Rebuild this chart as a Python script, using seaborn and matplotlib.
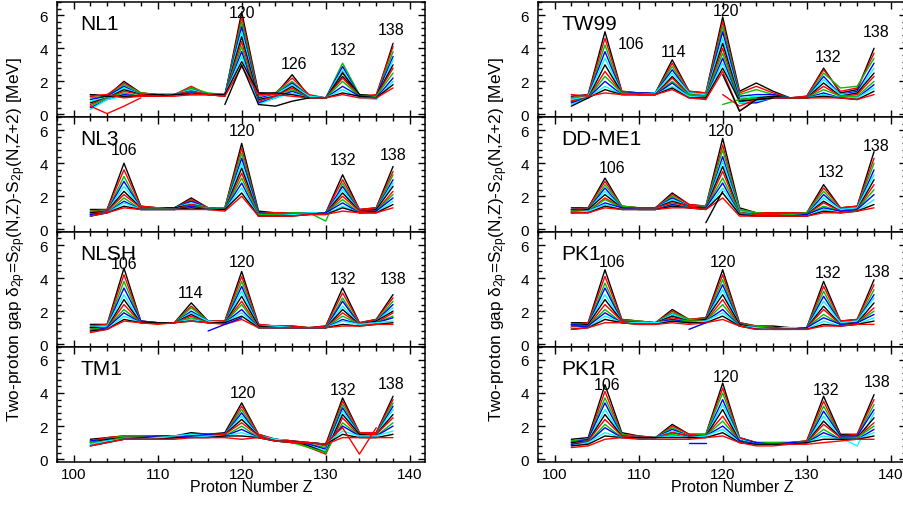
import numpy as np
import pandas as pd
import seaborn as sns
import matplotlib.pyplot as plt
from matplotlib.ticker import MultipleLocator

nan = np.nan

# proton numbers on the x axis
Z = [102, 104, 106, 108, 110, 112, 114, 116, 118, 120, 122, 124, 126, 128, 130, 132, 134, 136, 138]

# two-proton gaps (MeV), one row per isotone line
NL1 = [
    [1.2, 1.1, 2.0, 1.3, 1.2, 1.2, 1.6, 1.2, 1.1, 6.2, 1.3, 1.2, 2.4, 1.1, 1.0, 2.3, 1.2, 1.1, 4.3],
    [1.1, 1.2, 1.9, 1.3, 1.2, 1.2, 1.7, 1.2, 1.1, 5.9, 1.2, 1.3, 2.2, 1.2, 1.0, 2.6, 1.1, 1.2, 4.1],
    [1.0, 1.1, 1.8, 1.3, 1.2, 1.2, 1.6, 1.3, 1.2, 5.6, 1.1, 1.3, 2.0, 1.1, 1.0, 3.1, 1.2, 1.1, 3.8],
    [0.9, 1.1, 1.7, 1.2, 1.2, 1.2, 1.5, 1.2, 1.2, 5.3, 1.0, 1.2, 1.9, 1.1, 1.0, 2.9, 1.1, 1.1, 3.5],
    [0.8, 1.0, 1.6, 1.2, 1.2, 1.2, 1.5, 1.2, 1.2, 5.0, 0.9, 1.2, 1.8, 1.1, 1.0, 2.7, 1.1, 0.9, 3.3],
    [0.7, 1.0, 1.5, 1.2, 1.2, 1.2, 1.4, 1.2, 1.2, 4.7, 0.9, 1.1, 1.7, 1.0, 1.0, 2.5, 1.2, 1.1, 3.0],
    [0.6, 1.0, 1.4, 1.2, 1.1, 1.2, 1.4, 1.2, 1.2, 4.4, 0.8, 1.1, 1.6, 1.0, 1.0, 2.2, 1.1, 1.1, 2.8],
    [0.5, 1.0, 1.3, 1.1, 1.1, 1.2, 1.3, 1.2, 1.2, 4.1, 0.7, 1.0, 1.5, 1.0, 1.0, 2.0, 1.1, 1.1, 2.5],
    [0.4, 0.9, 1.2, 1.1, 1.1, 1.2, 1.3, 1.2, 1.2, 3.8, 0.7, 1.0, 1.4, 1.0, 1.0, 1.7, 1.1, 1.0, 2.2],
    [0.3, 0.9, 1.1, 1.1, 1.1, 1.2, 1.2, 1.2, 1.2, 3.5, 0.6, 1.0, 1.3, 1.0, 1.0, 1.5, 1.0, 0.9, 2.0],
    [1.2, 1.1, 1.1, 1.1, 1.1, 1.2, 1.2, 1.2, 1.2, 3.2, 1.3, 1.3, 1.2, 1.0, 1.0, 1.3, 1.1, 1.0, 1.8],
    [1.1, 1.2, 1.0, 1.1, 1.1, 1.1, 1.2, 1.2, 1.1, 2.9, 1.2, 1.2, 1.1, 1.0, 1.0, 1.2, 1.0, 1.0, 1.6],
]
NL3 = [
    [1.2, 1.2, 4.0, 1.4, 1.3, 1.3, 1.9, 1.3, 1.3, 5.2, 1.1, 1.0, 1.0, 1.0, 1.0, 3.3, 1.2, 1.3, 3.8],
    [1.1, 1.2, 3.6, 1.4, 1.3, 1.3, 1.8, 1.3, 1.3, 4.9, 1.0, 1.0, 1.0, 1.0, 1.0, 3.0, 1.2, 1.3, 3.5],
    [1.1, 1.1, 3.2, 1.3, 1.3, 1.3, 1.7, 1.3, 1.3, 4.6, 1.0, 0.9, 1.0, 1.0, 0.5, 2.8, 1.1, 1.2, 3.3],
    [1.0, 1.1, 2.9, 1.3, 1.3, 1.3, 1.7, 1.3, 1.2, 4.3, 1.0, 0.9, 0.9, 1.0, 1.0, 2.6, 1.1, 1.2, 3.0],
    [1.0, 1.1, 2.6, 1.3, 1.3, 1.3, 1.6, 1.3, 1.2, 4.0, 0.9, 0.9, 0.9, 1.0, 1.0, 2.4, 1.1, 1.2, 2.8],
    [1.0, 1.1, 2.3, 1.3, 1.3, 1.3, 1.5, 1.3, 1.2, 3.7, 0.9, 0.9, 0.9, 0.9, 1.0, 2.2, 1.1, 1.2, 2.6],
    [0.9, 1.1, 2.1, 1.3, 1.3, 1.2, 1.5, 1.3, 1.2, 3.4, 0.9, 0.9, 0.9, 0.9, 1.0, 2.0, 1.1, 1.1, 2.3],
    [0.9, 1.0, 1.9, 1.2, 1.3, 1.2, 1.4, 1.3, 1.2, 3.1, 0.9, 0.9, 0.9, 0.9, 1.0, 1.8, 1.0, 1.1, 2.1],
    [0.9, 1.0, 1.7, 1.2, 1.2, 1.2, 1.4, 1.2, 1.2, 2.8, 0.8, 0.8, 0.9, 0.9, 1.0, 1.6, 1.0, 1.1, 1.9],
    [0.8, 1.0, 1.6, 1.2, 1.2, 1.2, 1.3, 1.2, 1.2, 2.5, 0.8, 0.8, 0.9, 0.9, 0.9, 1.4, 1.0, 1.0, 1.7],
    [0.8, 1.0, 1.4, 1.2, 1.2, 1.2, 1.3, 1.2, 1.2, 2.2, 0.8, 0.8, 0.8, 0.9, 0.9, 1.3, 1.0, 1.0, 1.5],
    [0.8, 1.0, 1.3, 1.2, 1.2, 1.2, 1.2, 1.2, 1.1, 2.0, 0.8, 0.8, 0.8, 0.9, 0.9, 1.1, 1.0, 1.0, 1.3],
]
NLSH = [
    [1.2, 1.2, 4.6, 1.4, 1.3, 1.3, 2.5, 1.4, 1.4, 4.4, 1.2, 1.1, 1.1, 1.0, 1.1, 3.4, 1.3, 1.5, 3.0],
    [1.1, 1.2, 4.2, 1.4, 1.3, 1.3, 2.3, 1.4, 1.4, 4.1, 1.2, 1.1, 1.1, 1.0, 1.1, 3.1, 1.3, 1.5, 2.8],
    [1.1, 1.1, 3.8, 1.4, 1.3, 1.3, 2.2, 1.4, 1.3, 3.8, 1.1, 1.1, 1.0, 1.0, 1.0, 2.8, 1.2, 1.4, 2.6],
    [1.0, 1.1, 3.4, 1.4, 1.3, 1.3, 2.0, 1.4, 1.3, 3.5, 1.1, 1.1, 1.0, 1.0, 1.0, 2.6, 1.2, 1.4, 2.4],
    [1.0, 1.1, 3.0, 1.3, 1.3, 1.3, 1.9, 1.4, 1.3, 3.2, 1.1, 1.1, 1.0, 1.0, 1.0, 2.3, 1.2, 1.4, 2.2],
    [1.0, 1.0, 2.7, 1.3, 1.3, 1.3, 1.8, 1.3, 1.3, 2.9, 1.1, 1.0, 1.0, 1.0, 1.0, 2.1, 1.2, 1.4, 2.0],
    [0.9, 1.0, 2.4, 1.3, 1.3, 1.3, 1.7, 1.3, 1.3, 2.6, 1.0, 1.0, 1.0, 1.0, 1.0, 1.9, 1.2, 1.3, 1.9],
    [0.9, 1.0, 2.1, 1.3, 1.3, 1.3, 1.6, 1.3, 1.3, 2.4, 1.0, 1.0, 1.0, 1.0, 1.0, 1.7, 1.2, 1.3, 1.7],
    [0.8, 1.0, 1.9, 1.3, 1.3, 1.3, 1.5, 1.3, 1.3, 2.1, 1.0, 1.0, 1.0, 1.0, 1.0, 1.5, 1.2, 1.3, 1.6],
    [0.8, 0.9, 1.7, 1.3, 1.3, 1.3, 1.5, 1.3, 1.3, 1.9, 1.0, 1.0, 1.0, 1.0, 1.0, 1.4, 1.2, 1.3, 1.4],
    [0.8, 0.9, 1.5, 1.3, 1.3, 1.3, 1.4, 1.3, 1.3, 1.7, 1.0, 1.0, 1.0, 1.0, 1.0, 1.2, 1.1, 1.2, 1.3],
    [0.7, 0.9, 1.4, 1.3, 1.2, 1.3, 1.4, 1.3, 1.2, 1.5, 1.0, 1.0, 1.0, 1.0, 1.0, 1.1, 1.1, 1.2, 1.2],
]
TM1 = [
    [1.2, 1.3, 1.4, 1.4, 1.4, 1.4, 1.6, 1.5, 1.6, 3.4, 1.5, 1.2, 1.1, 1.0, 0.9, 3.7, 1.6, 1.6, 3.8],
    [1.1, 1.3, 1.4, 1.4, 1.4, 1.4, 1.5, 1.5, 1.5, 3.2, 1.5, 1.2, 1.1, 1.0, 0.8, 3.5, 1.6, 1.6, 3.6],
    [1.1, 1.2, 1.4, 1.4, 1.4, 1.4, 1.5, 1.5, 1.5, 3.0, 1.4, 1.2, 1.1, 0.9, 0.7, 3.3, 1.5, 1.5, 3.4],
    [1.1, 1.2, 1.3, 1.3, 1.4, 1.4, 1.5, 1.5, 1.5, 2.8, 1.4, 1.2, 1.1, 0.9, 0.6, 3.1, 1.5, 1.5, 3.2],
    [1.0, 1.2, 1.3, 1.3, 1.3, 1.4, 1.5, 1.4, 1.5, 2.6, 1.4, 1.2, 1.1, 0.8, 0.5, 2.9, 1.5, 1.5, 3.0],
    [1.0, 1.2, 1.3, 1.3, 1.3, 1.3, 1.4, 1.4, 1.5, 2.4, 1.4, 1.1, 1.1, 0.8, 0.4, 2.7, 1.5, 1.5, 2.7],
    [1.0, 1.1, 1.3, 1.3, 1.3, 1.3, 1.4, 1.4, 1.5, 2.2, 1.4, 1.1, 1.1, 0.7, 0.3, 2.5, 1.4, 1.5, 2.5],
    [1.0, 1.1, 1.3, 1.3, 1.3, 1.3, 1.4, 1.4, 1.4, 2.0, 1.3, 1.1, 1.0, 0.7, 0.4, 2.2, 1.4, 1.4, 2.2],
    [0.9, 1.1, 1.2, 1.3, 1.3, 1.3, 1.4, 1.4, 1.4, 1.8, 1.3, 1.1, 1.0, 1.0, 0.9, 2.0, 1.4, 1.4, 2.0],
    [0.9, 1.1, 1.2, 1.2, 1.3, 1.3, 1.3, 1.4, 1.4, 1.6, 1.3, 1.1, 1.0, 1.0, 0.9, 1.7, 1.4, 1.4, 1.7],
    [0.8, 1.0, 1.2, 1.2, 1.2, 1.3, 1.3, 1.3, 1.4, 1.4, 1.3, 1.1, 1.0, 1.0, 0.9, 1.5, 1.3, 1.3, 1.5],
    [0.8, 1.0, 1.2, 1.2, 1.2, 1.2, 1.3, 1.3, 1.3, 1.2, 1.3, 1.1, 1.0, 1.0, 0.9, 1.3, 1.3, 1.3, 1.3],
]
TW99 = [
    [1.1, 1.2, 5.0, 1.4, 1.3, 1.3, 3.3, 1.4, 1.3, 5.9, 1.4, 1.9, 1.4, 1.0, 1.1, 2.8, 1.3, 1.5, 4.0],
    [1.0, 1.2, 4.6, 1.4, 1.3, 1.3, 3.1, 1.4, 1.3, 5.6, 1.3, 1.7, 1.3, 1.0, 1.1, 2.7, 1.4, 1.6, 3.7],
    [1.0, 1.1, 4.2, 1.3, 1.3, 1.3, 2.9, 1.3, 1.2, 5.3, 1.2, 1.5, 1.2, 1.0, 1.0, 2.5, 1.6, 1.7, 3.4],
    [0.9, 1.1, 3.8, 1.3, 1.3, 1.3, 2.7, 1.3, 1.2, 5.0, 1.1, 1.2, 1.2, 1.0, 1.0, 2.3, 1.2, 1.4, 3.1],
    [0.9, 1.1, 3.4, 1.3, 1.2, 1.3, 2.5, 1.3, 1.2, 4.6, 1.0, 1.1, 1.1, 1.0, 1.0, 2.1, 1.2, 1.3, 2.8],
    [0.8, 1.0, 3.0, 1.3, 1.2, 1.2, 2.3, 1.2, 1.1, 4.3, 0.9, 1.0, 1.1, 1.0, 1.0, 1.9, 1.1, 1.3, 2.5],
    [0.8, 1.0, 2.6, 1.3, 1.2, 1.2, 2.2, 1.2, 1.1, 4.0, 0.8, 0.9, 1.0, 1.0, 1.0, 1.7, 1.1, 1.2, 2.3],
    [0.7, 1.0, 2.3, 1.3, 1.2, 1.2, 2.0, 1.2, 1.1, 3.7, 0.8, 0.8, 1.0, 1.0, 1.0, 1.5, 1.1, 1.1, 2.0],
    [0.7, 1.0, 2.0, 1.2, 1.2, 1.2, 1.9, 1.1, 1.0, 3.4, 0.7, 0.7, 1.0, 1.0, 1.0, 1.3, 1.0, 1.0, 1.8],
    [0.6, 1.0, 1.7, 1.2, 1.2, 1.2, 1.7, 1.1, 1.0, 3.1, 0.7, 0.8, 1.0, 1.0, 1.0, 1.2, 1.0, 1.0, 1.6],
    [0.5, 1.0, 1.5, 1.2, 1.2, 1.2, 1.6, 1.0, 1.0, 2.8, 0.8, 0.9, 1.0, 1.0, 1.0, 1.1, 1.0, 0.9, 1.4],
    [1.2, 1.1, 1.3, 1.2, 1.2, 1.2, 1.5, 1.0, 0.9, 2.6, 0.2, 0.9, 1.0, 1.0, 1.0, 1.0, 1.0, 0.9, 1.2],
]
DDME1 = [
    [1.3, 1.3, 3.1, 1.4, 1.3, 1.3, 2.2, 1.5, 1.4, 5.5, 1.3, 1.0, 1.0, 1.0, 1.0, 2.7, 1.3, 1.4, 4.7],
    [1.2, 1.3, 2.9, 1.4, 1.3, 1.3, 2.1, 1.5, 1.4, 5.1, 1.2, 1.0, 1.0, 1.0, 1.0, 2.5, 1.3, 1.4, 4.3],
    [1.2, 1.2, 2.7, 1.4, 1.3, 1.3, 2.0, 1.4, 1.4, 4.8, 1.2, 1.0, 0.9, 0.9, 1.0, 2.3, 1.2, 1.3, 4.0],
    [1.2, 1.2, 2.5, 1.3, 1.3, 1.3, 1.9, 1.4, 1.3, 4.4, 1.1, 0.9, 0.9, 0.9, 0.9, 2.1, 1.2, 1.3, 3.6],
    [1.1, 1.2, 2.3, 1.3, 1.3, 1.3, 1.8, 1.4, 1.3, 4.1, 1.1, 0.9, 0.9, 0.9, 0.9, 1.9, 1.2, 1.3, 3.3],
    [1.1, 1.2, 2.1, 1.3, 1.3, 1.3, 1.7, 1.4, 1.3, 3.8, 1.0, 0.9, 0.9, 0.9, 0.9, 1.7, 1.1, 1.2, 3.0],
    [1.1, 1.1, 1.9, 1.3, 1.3, 1.3, 1.6, 1.4, 1.3, 3.5, 1.0, 0.9, 0.9, 0.9, 0.9, 1.6, 1.1, 1.2, 2.7],
    [1.1, 1.1, 1.8, 1.3, 1.2, 1.2, 1.5, 1.3, 1.3, 3.1, 1.0, 0.8, 0.8, 0.9, 0.9, 1.4, 1.1, 1.2, 2.4],
    [1.0, 1.1, 1.6, 1.3, 1.2, 1.2, 1.5, 1.3, 1.3, 2.8, 0.9, 0.8, 0.8, 0.8, 0.9, 1.3, 1.1, 1.2, 2.1],
    [1.0, 1.1, 1.5, 1.2, 1.2, 1.2, 1.4, 1.3, 1.2, 2.5, 0.9, 0.8, 0.8, 0.8, 0.8, 1.2, 1.0, 1.1, 1.8],
    [1.0, 1.0, 1.4, 1.2, 1.2, 1.2, 1.4, 1.3, 1.2, 2.2, 0.9, 0.8, 0.8, 0.8, 0.8, 1.1, 1.0, 1.1, 1.5],
    [1.0, 1.0, 1.3, 1.2, 1.2, 1.2, 1.3, 1.3, 1.2, 1.9, 0.8, 0.8, 0.8, 0.8, 0.8, 1.0, 1.0, 1.1, 1.3],
]
PK1 = [
    [1.3, 1.3, 4.5, 1.5, 1.4, 1.3, 2.1, 1.5, 1.6, 4.5, 1.3, 1.1, 1.1, 1.0, 1.0, 3.8, 1.4, 1.5, 3.9],
    [1.2, 1.3, 4.1, 1.5, 1.4, 1.3, 2.0, 1.5, 1.6, 4.2, 1.3, 1.1, 1.0, 1.0, 1.0, 3.5, 1.4, 1.5, 3.6],
    [1.2, 1.2, 3.7, 1.4, 1.4, 1.3, 1.9, 1.5, 1.5, 3.9, 1.2, 1.1, 1.0, 1.0, 1.0, 3.2, 1.3, 1.4, 3.3],
    [1.2, 1.2, 3.4, 1.4, 1.3, 1.3, 1.8, 1.4, 1.5, 3.6, 1.2, 1.0, 1.0, 1.0, 1.0, 2.9, 1.3, 1.4, 3.0],
    [1.1, 1.2, 3.0, 1.4, 1.3, 1.3, 1.8, 1.4, 1.5, 3.3, 1.2, 1.0, 1.0, 1.0, 1.0, 2.6, 1.3, 1.4, 2.8],
    [1.1, 1.2, 2.7, 1.4, 1.3, 1.3, 1.7, 1.4, 1.5, 3.0, 1.2, 1.0, 1.0, 0.9, 1.0, 2.3, 1.2, 1.3, 2.5],
    [1.1, 1.1, 2.4, 1.4, 1.3, 1.3, 1.6, 1.4, 1.4, 2.7, 1.1, 1.0, 1.0, 0.9, 1.0, 2.1, 1.2, 1.3, 2.2],
    [1.0, 1.1, 2.1, 1.3, 1.3, 1.3, 1.5, 1.4, 1.4, 2.4, 1.1, 1.0, 0.9, 0.9, 1.0, 1.8, 1.2, 1.3, 2.0],
    [1.0, 1.1, 1.9, 1.3, 1.3, 1.3, 1.5, 1.3, 1.4, 2.1, 1.1, 1.0, 0.9, 0.9, 1.0, 1.6, 1.2, 1.3, 1.8],
    [1.0, 1.0, 1.7, 1.3, 1.3, 1.3, 1.4, 1.3, 1.4, 1.9, 1.1, 1.0, 0.9, 0.9, 0.9, 1.4, 1.1, 1.2, 1.6],
    [0.9, 1.0, 1.5, 1.3, 1.2, 1.2, 1.4, 1.3, 1.3, 1.7, 1.1, 0.9, 0.9, 0.9, 0.9, 1.2, 1.1, 1.2, 1.4],
    [0.9, 1.0, 1.3, 1.3, 1.2, 1.2, 1.3, 1.2, 1.3, 1.5, 1.1, 0.9, 0.9, 0.9, 0.9, 1.1, 1.1, 1.2, 1.2],
]
PK1R = [
    [1.2, 1.3, 4.5, 1.6, 1.4, 1.3, 2.1, 1.5, 1.5, 4.6, 1.3, 1.0, 1.0, 1.0, 1.1, 3.8, 1.5, 1.5, 3.9],
    [1.1, 1.2, 4.1, 1.5, 1.4, 1.3, 2.0, 1.5, 1.5, 4.3, 1.3, 1.0, 1.0, 1.0, 1.1, 3.5, 1.4, 1.5, 3.6],
    [1.1, 1.2, 3.7, 1.5, 1.3, 1.3, 1.9, 1.4, 1.5, 4.0, 1.2, 1.0, 1.0, 1.0, 1.0, 3.2, 1.4, 1.4, 3.3],
    [1.0, 1.2, 3.4, 1.4, 1.3, 1.3, 1.8, 1.4, 1.4, 3.6, 1.2, 1.0, 0.9, 1.0, 1.0, 2.9, 1.4, 1.4, 3.0],
    [1.0, 1.1, 3.0, 1.4, 1.3, 1.3, 1.7, 1.4, 1.4, 3.3, 1.2, 0.9, 0.9, 0.9, 1.0, 2.6, 1.3, 0.8, 2.8],
    [1.0, 1.1, 2.7, 1.4, 1.3, 1.3, 1.6, 1.4, 1.4, 3.0, 1.1, 0.9, 0.9, 0.9, 1.0, 2.3, 1.3, 1.3, 2.5],
    [0.9, 1.1, 2.4, 1.4, 1.3, 1.3, 1.6, 1.4, 1.4, 2.6, 1.1, 0.9, 0.9, 0.9, 1.0, 2.1, 1.3, 1.3, 2.2],
    [0.9, 1.0, 2.1, 1.3, 1.3, 1.3, 1.5, 1.3, 1.4, 2.3, 1.1, 0.9, 0.9, 0.9, 1.0, 1.8, 1.2, 1.3, 2.0],
    [0.9, 1.0, 1.9, 1.3, 1.3, 1.3, 1.4, 1.3, 1.4, 2.0, 1.1, 0.9, 0.9, 0.9, 1.0, 1.6, 1.2, 1.2, 1.8],
    [0.8, 1.0, 1.6, 1.3, 1.3, 1.3, 1.4, 1.3, 1.4, 1.8, 1.0, 0.9, 0.9, 0.9, 1.0, 1.4, 1.2, 1.2, 1.6],
    [0.8, 0.9, 1.4, 1.3, 1.3, 1.3, 1.3, 1.3, 1.3, 1.6, 1.0, 0.9, 0.9, 0.9, 1.0, 1.2, 1.2, 1.2, 1.4],
    [0.7, 0.8, 1.2, 1.3, 1.2, 1.2, 1.2, 1.2, 1.3, 1.4, 1.0, 0.8, 0.8, 0.9, 0.9, 1.0, 1.1, 1.2, 1.2],
]

# short stray lines (isotones that exist only over part of the Z range)
EXTRA = {
    'NL1': [('red', [0.5, 0.05, 0.5, 1.0] + [nan] * 15),
            ('black', [nan] * 8 + [0.6, 3.0, 0.6, 0.5, 0.8, 1.0] + [nan] * 5)],
    'NL3': [],
    'NLSH': [('blue', [nan] * 7 + [0.8, 1.2, 1.6] + [nan] * 9)],
    'TM1': [('red', [nan] * 14 + [1.0, 1.9, 0.3, 1.9, nan])],
    'TW99': [('red', [nan] * 9 + [1.2, 0.5, 0.9, 1.0] + [nan] * 6),
             ('#00c000', [nan] * 9 + [0.6, 0.9, 1.0] + [nan] * 7),
             ('black', [nan] * 9 + [2.4, 0.2, 0.9, 1.0] + [nan] * 6)],
    'DD-ME1': [('black', [nan] * 8 + [0.4, 2.3] + [nan] * 9)],
    'PK1': [('blue', [nan] * 7 + [0.9, 1.3] + [nan] * 10)],
    'PK1R': [('blue', [nan] * 7 + [1.0, 1.0] + [nan] * 10)],
}

# magic-number tags: (text, Z, MeV)
TAGS = {
    'NL1': [('120', 120, 6.15), ('126', 126.2, 3.1), ('132', 132.1, 3.9), ('138', 137.8, 5.15)],
    'NL3': [('106', 106, 4.8), ('120', 120, 6.0), ('132', 132, 4.25), ('138', 138, 4.5)],
    'NLSH': [('106', 106, 4.9), ('114', 113.9, 3.1), ('120', 120, 5.0), ('132', 132, 4.0), ('138', 138, 4.0)],
    'TM1': [('120', 120.1, 4.0), ('132', 132, 4.2), ('138', 137.8, 4.6)],
    'TW99': [('106', 109.1, 4.3), ('114', 114.2, 3.8), ('120', 120.4, 6.3), ('132', 132.5, 3.5), ('138', 138.2, 5.0)],
    'DD-ME1': [('106', 106.8, 3.75), ('120', 119.8, 6.0), ('132', 132.9, 3.5), ('138', 138.2, 5.1)],
    'PK1': [('106', 106.8, 5.0), ('120', 120, 5.0), ('132', 132.5, 4.35), ('138', 138.4, 4.4)],
    'PK1R': [('106', 106.3, 4.5), ('120', 120.4, 5.0), ('132', 132.3, 4.2), ('138', 138.4, 4.7)],
}

LEFT = [('NL1', NL1), ('NL3', NL3), ('NLSH', NLSH), ('TM1', TM1)]
RIGHT = [('TW99', TW99), ('DD-ME1', DDME1), ('PK1', PK1), ('PK1R', PK1R)]
CYCLE = ['black', 'red', '#00c000', 'blue', 'cyan']

sns.set_style('ticks')
plt.rcParams['font.family'] = ['Liberation Sans', 'DejaVu Sans']
plt.rcParams['mathtext.fontset'] = 'custom'
plt.rcParams['mathtext.rm'] = 'Liberation Sans'
plt.rcParams['mathtext.it'] = 'Liberation Sans'
for k in ['text.color', 'axes.labelcolor', 'xtick.color', 'ytick.color', 'axes.edgecolor']:
    plt.rcParams[k] = 'black'

W, H = 904, 506
fig = plt.figure(figsize=(W / 100, H / 100), dpi=100)

col_x = [56.7, 537.7]
ax_w = 368.3
top0, row_h = 3.0, 114.9


def draw_panel(ax, name, lines):
    rows = []
    palette = {}
    for i, vals in enumerate(lines):
        key = 'L%02d' % i
        palette[key] = CYCLE[i % len(CYCLE)]
        rows += [(key, z, v) for z, v in zip(Z, vals) if not np.isnan(v)]
    for j, (c, vals) in enumerate(EXTRA[name]):
        key = 'X%02d' % j
        palette[key] = c
        rows += [(key, z, v) for z, v in zip(Z, vals) if not np.isnan(v)]
    df = pd.DataFrame(rows, columns=['line', 'Z', 'gap'])
    sns.lineplot(data=df, x='Z', y='gap', hue='line', palette=palette,
                 hue_order=list(palette), legend=False, linewidth=1.0,
                 estimator=None, ax=ax)
    for txt, x, y in TAGS[name]:
        ax.text(x, y, txt, ha='center', va='center', fontsize=11.5)
    ax.text(0.065, 0.81, name, transform=ax.transAxes, ha='left', va='center', fontsize=15)
    ax.set_xlim(98, 141.8)
    ax.set_ylim(-0.15, 6.8)
    ax.xaxis.set_major_locator(MultipleLocator(10))
    ax.xaxis.set_minor_locator(MultipleLocator(2))
    ax.yaxis.set_major_locator(MultipleLocator(2))
    ax.yaxis.set_minor_locator(MultipleLocator(0.4))
    ax.tick_params(which='both', direction='in', top=True, right=True, width=1.0, labelsize=11)
    ax.tick_params(which='major', length=4.8)
    ax.tick_params(which='minor', length=2.9)
    ax.tick_params(axis='y', pad=6.5)
    ax.tick_params(axis='x', pad=4)
    ax.set_xlabel('')
    ax.set_ylabel('')
    for sp in ax.spines.values():
        sp.set_linewidth(1.1)


for c, panels in enumerate([LEFT, RIGHT]):
    for r, (name, lines) in enumerate(panels):
        bottom = 1 - (top0 + (r + 1) * row_h) / H
        ax = fig.add_axes([col_x[c] / W, bottom, ax_w / W, row_h / H])
        draw_panel(ax, name, lines)
        if r < 3:
            ax.tick_params(labelbottom=False)

ylab = r'Two-proton gap $\delta_{2p}$=S$_{2p}$(N,Z)-S$_{2p}$(N,Z+2) [MeV]'
fig.text(17 / W, 1 - 240 / H, ylab, rotation=90, ha='center', va='center', fontsize=12.4)
fig.text(499 / W, 1 - 240 / H, ylab, rotation=90, ha='center', va='center', fontsize=12.4)
fig.text(251 / W, 1 - 488 / H, 'Proton Number Z', ha='center', va='center', fontsize=11.5)
fig.text(732 / W, 1 - 488 / H, 'Proton Number Z', ha='center', va='center', fontsize=11.5)

fig.savefig('out.png', dpi=100)
